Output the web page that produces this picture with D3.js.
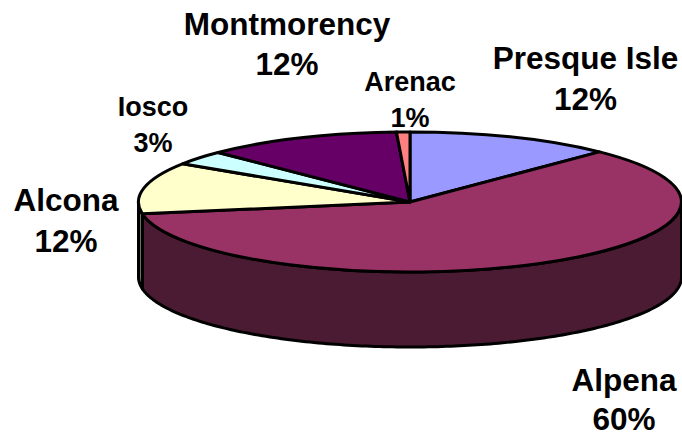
<!DOCTYPE html>
<html><head><meta charset="utf-8"><script src="https://cdn.jsdelivr.net/npm/d3@7"></script>
<style>html,body{margin:0;padding:0;background:#fff}svg{display:block}text{font-family:"Liberation Sans",Arial,sans-serif;font-weight:bold;fill:#000;text-anchor:middle}</style></head>
<body><svg id="c" width="682" height="437"></svg>
<script>
const categories=["Presque Isle","Alpena","Alcona","Iosco","Montmorency","Arenac"];
const values=[12.3,60.0,11.9,3.3,11.7,0.8];
const topColors=["#9999ff","#993366","#ffffcc","#ccffff","#660066","#ff8080"];
const sideColors=["#4d4d80","#4b1b33","#808066","#668080","#330033","#804040"];
const labelX=[585.5,624,66,153,287,410];
const labelY=[69,391,211,116,35,91];
const labelSize=[31.5,31.5,31.5,27,31.5,27];
const lineGap=[41,39,41,36,40,36];

const cx=410,cy=202,rx=271.5,ry=70,depth=75;
const svg=d3.select("#c");
const x=d3.scaleLinear().domain([-1,1]).range([cx-rx,cx+rx]);
const y=d3.scaleLinear().domain([-1,1]).range([cy-ry,cy+ry]);
const pct=d3.format(".0f");
const data=categories.map((c,i)=>({c,v:values[i],i}));
const arcs=d3.pie().sort(null).value(d=>d.v)(data);
const line=d3.line();
const px=a=>x(Math.sin(a)), py=a=>y(-Math.cos(a));

arcs.forEach(s=>{
  const a0=Math.max(s.startAngle,Math.PI/2),a1=Math.min(s.endAngle,Math.PI*1.5);
  if(a1<=a0)return;
  const as=d3.range(0,181).map(k=>a0+(a1-a0)*k/180);
  const pts=as.map(a=>[px(a),py(a)]).concat(as.slice().reverse().map(a=>[px(a),py(a)+depth]));
  svg.append("path").attr("d",line(pts)+"Z").attr("fill",sideColors[s.data.i])
    .attr("stroke","#000").attr("stroke-width",3).attr("stroke-linejoin","round");
});
const arc=d3.arc().innerRadius(0).outerRadius(1);
svg.append("g").attr("transform",`translate(${cx},${cy}) scale(${rx},${ry})`)
  .selectAll("path").data(arcs).join("path")
  .attr("d",arc).attr("fill",d=>topColors[d.data.i])
  .attr("stroke","#000").attr("stroke-width",3).attr("stroke-linejoin","round")
  .attr("vector-effect","non-scaling-stroke");
const g=svg.append("g");
arcs.forEach(s=>{
  const i=s.data.i;
  const t=g.append("text").attr("font-size",labelSize[i]);
  t.append("tspan").attr("x",labelX[i]).attr("y",labelY[i]).text(s.data.c);
  t.append("tspan").attr("x",labelX[i]).attr("y",labelY[i]+lineGap[i]).text(pct(s.data.v)+"%");
});
</script></body></html>
